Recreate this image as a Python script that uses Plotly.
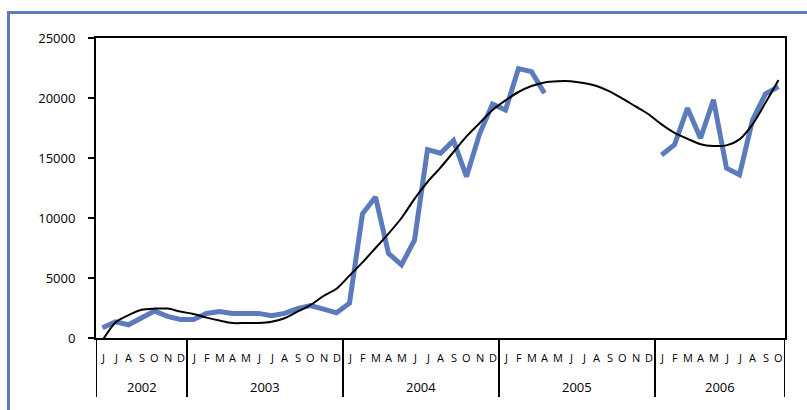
import plotly.graph_objects as go

# Monthly series, June 2002 to October 2006
years = ["2002", "2003", "2004", "2005", "2006"]
months_per_year = [7, 12, 12, 12, 10]
month_letters = (
    ["J", "J", "A", "S", "O", "N", "D"]
    + ["J", "F", "M", "A", "M", "J", "J", "A", "S", "O", "N", "D"] * 3
    + ["J", "F", "M", "A", "M", "J", "J", "A", "S", "O"]
)

observed = [
    850, 1350, 1100, 1700, 2250, 1800, 1550,                      # 2002
    1550, 2050, 2200, 2050, 2050, 2050, 1850, 2050, 2450, 2700, 2400, 2100,   # 2003
    2900, 10350, 11750, 7050, 6100, 8150, 15700, 15400, 16450, 13450, 17000, 19500,  # 2004
    19000, 22450, 22200, 20400, None, None, None, None, None, None, None, None,  # 2005
    15250, 16100, 19150, 16650, 19850, 14150, 13600, 18150, 20350, 20950,     # 2006
]

trend = [
    -200, 1300, 1900, 2350, 2450, 2450, 2200,
    2000, 1700, 1450, 1250, 1250, 1250, 1350, 1650, 2200, 2750, 3500, 4100,
    5200, 6300, 7500, 8700, 10000, 11600, 13000, 14200, 15500, 16800, 17900, 19000,
    19800, 20500, 21000, 21300, 21400, 21400, 21250, 21000, 20550, 19950, 19300, 18650,
    17800, 17100, 16600, 16150, 16000, 16050, 16550, 17800, 19600, 21500,
]

y_ticks = [0, 5000, 10000, 15000, 20000, 25000]
y_tick_text = [str(v) for v in y_ticks]

idx = list(range(len(month_letters)))
blue = "#5B7BBC"
font_family = "Open Sans, DejaVu Sans, sans-serif"

fig = go.Figure()
fig.add_trace(go.Scatter(
    x=idx, y=observed, mode="lines", connectgaps=False,
    line=dict(color=blue, width=5), showlegend=False, hoverinfo="skip",
))
fig.add_trace(go.Scatter(
    x=idx, y=trend, mode="lines", line_shape="spline",
    line=dict(color="black", width=2, smoothing=0.8),
    showlegend=False, hoverinfo="skip",
))

annotations = []
for i, m in enumerate(month_letters):
    annotations.append(dict(
        x=i, y=-19 / 300, xref="x", yref="paper", text=m, showarrow=False,
        font=dict(family=font_family, size=11, color="black"),
        xanchor="center", yanchor="middle",
    ))

shapes = []
start = 0
bounds = [-0.5]
for yr, n in zip(years, months_per_year):
    mid = start + (n - 1) / 2
    annotations.append(dict(
        x=mid, y=-49 / 300, xref="x", yref="paper", text=yr, showarrow=False,
        font=dict(family=font_family, size=13, color="black"),
        xanchor="center", yanchor="middle",
    ))
    start += n
    bounds.append(start - 0.5)

for b in bounds:
    shapes.append(dict(
        type="line", xref="x", yref="paper", x0=b, x1=b, y0=0, y1=-59 / 300,
        line=dict(color="black", width=2),
    ))

# Blue frame around the whole chart
shapes.append(dict(
    type="rect", xref="paper", yref="paper",
    x0=(8.5 - 96) / 689, x1=(815 - 96) / 689,
    y0=(338 - 420) / 300, y1=(338 - 12.5) / 300,
    line=dict(color=blue, width=3), fillcolor="rgba(0,0,0,0)", layer="below",
))

fig.update_layout(
    width=807, height=410,
    margin=dict(l=96, r=22, t=38, b=72),
    paper_bgcolor="white", plot_bgcolor="white",
    font=dict(family=font_family, size=13, color="black"),
    annotations=annotations, shapes=shapes,
    xaxis=dict(
        range=[-0.5, len(month_letters) - 0.5], showgrid=False, zeroline=False,
        showticklabels=False, ticks="", showline=True, linecolor="black",
        linewidth=2, mirror=True,
    ),
    yaxis=dict(
        range=[0, 25000], tickvals=y_ticks, ticktext=y_tick_text,
        showgrid=False, zeroline=False,
        ticks="outside", ticklen=6, tickwidth=2, tickcolor="black",
        showline=True, linecolor="black", linewidth=2, mirror=True,
        tickfont=dict(family=font_family, size=13), ticklabelstandoff=10,
    ),
)

fig.write_html("out.html")
